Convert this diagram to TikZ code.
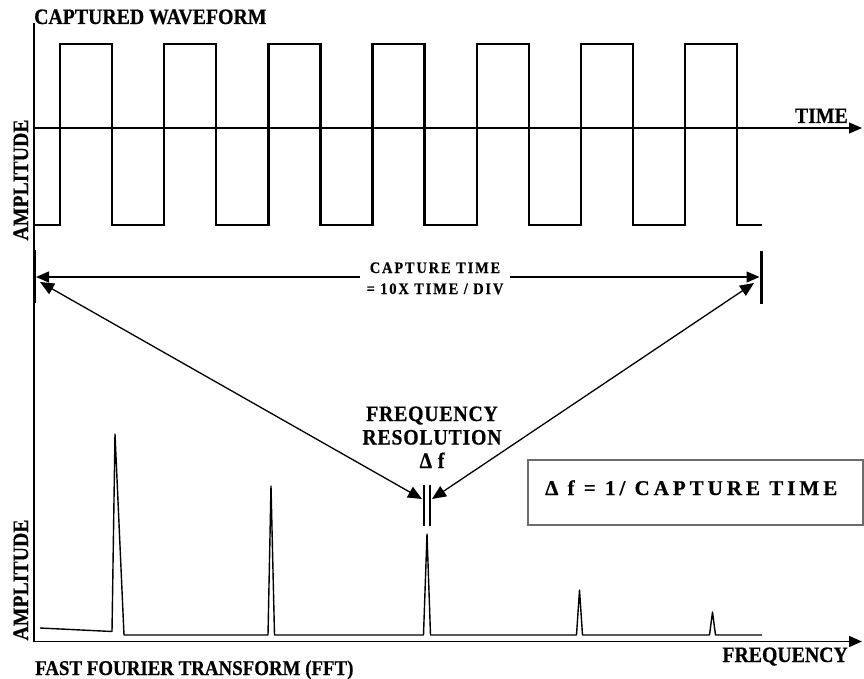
\documentclass[tikz,border=0pt]{standalone}
\usepackage{fontspec}
\usepackage{graphicx}
\setmainfont{Liberation Serif}[BoldFeatures={FakeBold=0.6}]
\usetikzlibrary{arrows.meta}
\newcommand{\lt}[2]{{\fontsize{#1}{#1}\selectfont\scalebox{0.9}[1]{#2}}}
\begin{document}
\begin{tikzpicture}[x=1pt,y=-1pt,
  lbl/.style={font=\bfseries, inner sep=0pt},
  axis/.style={line width=1.3pt},
  tipA/.style={-{Triangle[length=13pt,width=11pt]}},
  tipB/.style={{Triangle[length=14pt,width=12pt]}-{Triangle[length=14pt,width=12pt]}},
  wave/.style={line width=2.3pt, line join=miter},
  spec/.style={line width=1.4pt, line join=round},
  bar/.style={line width=3pt}]
\useasboundingbox (0,0) rectangle (864,679);
% named coordinates
\coordinate (ytop) at (34,23);
\coordinate (ybot) at (34,642);
\coordinate (t0) at (34,128);
\coordinate (t1) at (862,128);
\coordinate (f0) at (34,641.5);
\coordinate (f1) at (862,641.5);
% axes
\draw[axis] (ytop) -- (ybot);
\draw[axis, tipA] (t0) -- (t1);
\draw[line width=1.6pt, tipA] (f0) -- (f1);
% square wave
\draw[wave] (34,225) -- (60,225) -- (60,44) -- (112,44) -- (112,225)
  -- (164.2,225) -- (164.2,44) -- (216.2,44) -- (216.2,225)
  -- (268.4,225) -- (268.4,44) -- (320.4,44) -- (320.4,225)
  -- (372.6,225) -- (372.6,44) -- (424.6,44) -- (424.6,225)
  -- (476.8,225) -- (476.8,44) -- (528.8,44) -- (528.8,225)
  -- (581.0,225) -- (581.0,44) -- (633.0,44) -- (633.0,225)
  -- (685.2,225) -- (685.2,44) -- (737.2,44) -- (737.2,225)
  -- (762,225);
% spectrum
\draw[spec] (40,628) -- (112,631.5) -- (115,434) -- (124,635) -- (268,635)
  -- (271,486) -- (274.5,635) -- (423.5,635) -- (427,534) -- (430.5,635)
  -- (576.5,635) -- (579.5,590) -- (582.5,635) -- (709.5,635) -- (712.5,612)
  -- (715.5,635) -- (762,635);
% capture time bars
\coordinate (bl1) at (34,250); \coordinate (bl2) at (34,303);
\coordinate (br1) at (761,251); \coordinate (br2) at (761,304);
\draw[bar] (bl1) -- (bl2);
\draw[bar] (br1) -- (br2);
% capture time label and dimension line
\node[lbl, font=\bfseries\fontsize{16}{21}\selectfont\addfontfeatures{LetterSpace=13}, align=center, anchor=base] (ct) at (435,294)
  {\lt{16}{CAPTURE TIME}\\\lt{16}{= 10X TIME / DIV}};
\coordinate (cl) at (36,277); \coordinate (cgl) at (360,277);
\coordinate (cr) at (759.5,277); \coordinate (cgr) at (510,277);
\draw[axis, tipA] (cgl) -- (cl);
\draw[axis, tipA] (cgr) -- (cr);
% frequency resolution bars
\coordinate (r1a) at (424,485); \coordinate (r1b) at (424,526);
\coordinate (r2a) at (430,485); \coordinate (r2b) at (430,526);
\draw[line width=1.1pt] (r1a) -- (r1b);
\draw[line width=1.1pt] (r2a) -- (r2b);
% diagonal arrows
\coordinate (dl1) at (40,282); \coordinate (dl2) at (422,499);
\coordinate (dr1) at (754,283); \coordinate (dr2) at (432,499);
\draw[axis, tipB] (dl1) -- (dl2);
\draw[axis, tipB] (dr1) -- (dr2);
% labels
\node[lbl, anchor=base west] (title) at (34,24) {\lt{22}{CAPTURED WAVEFORM}};
\node[lbl, anchor=base east] (time) at (848,123) {\lt{22}{TIME}};
\node[lbl, rotate=90, anchor=base] (amp1) at (28,180) {\lt{22}{AMPLITUDE}};
\node[lbl, rotate=90, anchor=base] (amp2) at (28,580) {\lt{22}{AMPLITUDE}};
\node[lbl, align=center, anchor=base, font=\bfseries\fontsize{22}{23.5}\selectfont\addfontfeatures{LetterSpace=4}] (fr) at (432,468)
  {\lt{22}{FREQUENCY}\\\lt{22}{RESOLUTION}\\\lt{22}{Δ f}};
\node[lbl, anchor=base west] (fft) at (35,675) {\lt{21}{FAST FOURIER TRANSFORM (FFT)}};
\node[lbl, anchor=base east] (freq) at (848,662) {\lt{22}{FREQUENCY}};
% box
\node[draw=gray!85!black, line width=2.5pt, minimum width=335pt, minimum height=65pt, inner sep=0pt] (box) at (695.5,492.5) {};
\node[lbl, font=\bfseries\fontsize{21}{24}\selectfont\addfontfeatures{LetterSpace=19}, anchor=base west] (eq) at (545,495) {Δ f = 1/ CAPTURE TIME};
\end{tikzpicture}
\end{document}
